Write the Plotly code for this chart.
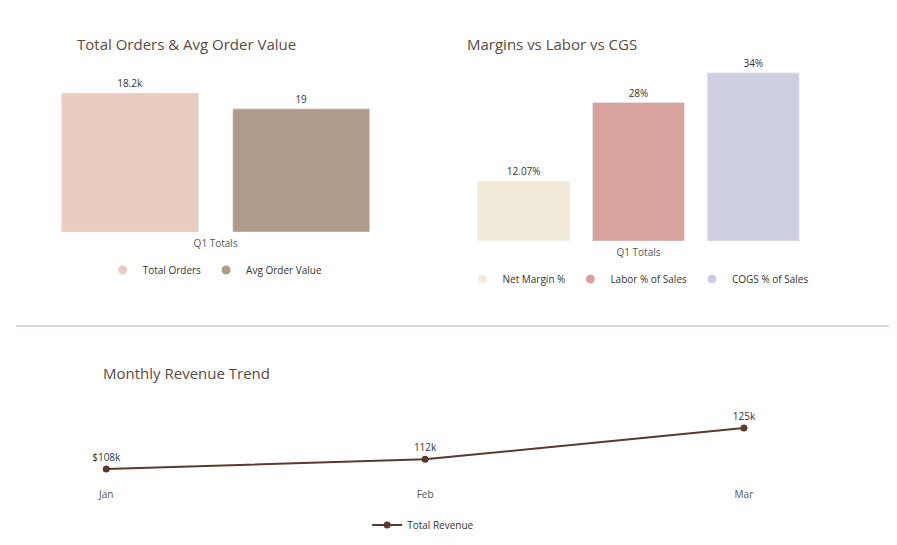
import plotly.graph_objects as go

W, H = 897, 545

orders_label = ["Q1 Totals"]
total_orders = [18200]
avg_order_value = [19]

margin_names = ["Net Margin %", "Labor % of Sales", "COGS % of Sales"]
margin_values = [12.07, 28, 34]
margin_text = ["12.07%", "28%", "34%"]
margin_colors = ["#f3ebda", "#d8a39c", "#cdcfe0"]

months = ["Jan", "Feb", "Mar"]
revenue_k = [108, 112, 125]
revenue_text = ["$108k", "112k", "125k"]

TXT = "#333333"
TITLE = "#5c4a3d"
FONT = "Open Sans"


def px(x):
    return x / W


def py(y):
    return 1 - y / H


fig = go.Figure()

# --- top left: orders & AOV (two hidden y scales)
fig.add_trace(go.Bar(x=orders_label, y=total_orders, text=["18.2k"], textposition="outside",
                     marker_color="#e8cdbf", offsetgroup="a", xaxis="x", yaxis="y",
                     showlegend=False, cliponaxis=False))
fig.add_trace(go.Bar(x=orders_label, y=avg_order_value, text=["19"], textposition="outside",
                     marker_color="#b09b8b", offsetgroup="b", xaxis="x", yaxis="y2",
                     showlegend=False, cliponaxis=False))
for name, color in [("Total Orders", "#e8cdbf"), ("Avg Order Value", "#b09b8b")]:
    fig.add_trace(go.Scatter(x=[None], y=[None], mode="markers", name=name,
                             marker=dict(color=color, size=9), xaxis="x", yaxis="y",
                             legend="legend"))

# --- top right: margins
for name, val, t, color in zip(margin_names, margin_values, margin_text, margin_colors):
    fig.add_trace(go.Bar(x=orders_label, y=[val], text=[t], textposition="outside",
                         marker_color=color, name=name, xaxis="x3", yaxis="y3",
                         showlegend=False, cliponaxis=False, offsetgroup=name))
    fig.add_trace(go.Scatter(x=[None], y=[None], mode="markers", name=name,
                             marker=dict(color=color, size=9), xaxis="x3", yaxis="y3",
                             legend="legend2"))

# --- bottom: revenue trend
fig.add_trace(go.Scatter(x=months, y=revenue_k, text=revenue_text, mode="lines+markers+text",
                         textposition="top center", name="Total Revenue",
                         line=dict(color="#5a3a2a", width=2), marker=dict(color="#5a3a2a", size=7),
                         xaxis="x4", yaxis="y4", cliponaxis=False, legend="legend3"))

hidden = dict(showgrid=False, zeroline=False, showticklabels=False, showline=False)
cat = dict(showgrid=False, zeroline=False, showline=False, ticks="",
           tickfont=dict(size=10, color="#555555"))

fig.update_layout(
    width=W, height=H, margin=dict(l=0, r=0, t=0, b=0),
    paper_bgcolor="white", plot_bgcolor="white",
    font=dict(family=FONT, size=10, color=TXT),
    barmode="group", bargap=0.0, bargroupgap=0.2,
    xaxis=dict(domain=[px(46 - 17), px(361 + 17)], **cat),
    yaxis=dict(domain=[py(224), py(60)], range=[0, 21470], **hidden),
    yaxis2=dict(overlaying="y", range=[0, 25.3], **hidden),
    xaxis3=dict(domain=[px(459), px(810)], anchor="y3", **cat),
    yaxis3=dict(domain=[py(233), py(50)], range=[0, 37], **hidden),
    xaxis4=dict(domain=[px(92), px(742)], anchor="y4", range=[0, 2], **cat),
    yaxis4=dict(domain=[py(475), py(400)], range=[102.2, 133.3], **hidden),
    legend=dict(orientation="h", x=px(203), xanchor="center", y=py(262), yanchor="middle",
                font=dict(size=10)),
    legend2=dict(orientation="h", x=px(634), xanchor="center", y=py(271), yanchor="middle",
                 font=dict(size=10)),
    legend3=dict(orientation="h", x=px(415), xanchor="center", y=py(517), yanchor="middle",
                 font=dict(size=10)),
    showlegend=True,
)
fig.update_xaxes(ticklabelstandoff=4)

for text, x, y in [("Total Orders & Avg Order Value", 60, 36),
                   ("Margins vs Labor vs CGS", 458, 36),
                   ("Monthly Revenue Trend", 87, 365)]:
    fig.add_annotation(text=text, x=px(x), y=py(y), xref="paper", yref="paper",
                       xanchor="left", yanchor="middle", showarrow=False,
                       font=dict(size=15, color=TITLE))

fig.add_shape(type="line", xref="paper", yref="paper", x0=0, x1=px(890), y0=py(318), y1=py(318),
              line=dict(color="#c9a995", width=1))
fig.add_shape(type="rect", xref="paper", yref="paper", x0=px(890), x1=1, y0=0, y1=1,
              fillcolor="#eef0f8", line=dict(width=0), layer="below")

fig.write_html("out.html")
